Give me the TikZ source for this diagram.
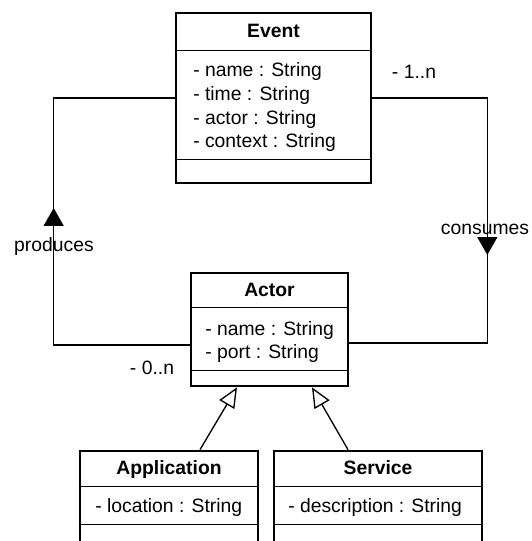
\documentclass[tikz,border=0pt]{standalone}
\usepackage{fontspec}
\setmainfont{Liberation Sans}
\usetikzlibrary{arrows.meta,calc,decorations.markings}

\tikzset{
    classbox/.style={draw, line width=2pt, inner sep=0pt},
    divider/.style={line width=1pt},
    assoc/.style={line width=1pt},
    classtitle/.style={font=\fontsize{14.5}{17}\selectfont\bfseries, inner sep=0pt,
        text height=10.5pt, text depth=0pt},
    attr/.style={font=\fontsize{14.5}{17}\selectfont, anchor=west, inner sep=0pt},
    rolelabel/.style={font=\fontsize{14.5}{17}\selectfont, inner sep=0pt},
    general/.style={line width=1pt, -{Triangle[open, length=15pt, width=13pt, line width=1pt]}},
    midarrow/.style={postaction={decorate}, decoration={markings,
        mark=at position #1 with {\arrow{Triangle[length=13.5pt, width=15pt]}}}}
}

\begin{document}
\begin{tikzpicture}[x=0.75pt, y=-0.75pt]
        \useasboundingbox (0,0) rectangle (531,541);
        \clip (0,0) rectangle (531,541);

        % Event
        \node[classbox, minimum width=146.25pt, minimum height=127.5pt] (event) at (273.5,98) {};
        \node[classtitle] (eventtitle) at ($(event.north)+(0,19)$) {Event};
        \draw[divider] ($(event.north west)+(0,39)$) -- ($(event.north east)+(0,39)$);
        \draw[divider] ($(event.north west)+(0,148)$) -- ($(event.north east)+(0,148)$);
        \foreach \a[count=\i] in {name, time, actor, context} {
            \node[attr] (eventattr\i) at (193, 48.4+23.6*\i) {- \a\ : String};
        }

        % Actor
        \node[classbox, minimum width=117.75pt, minimum height=84.75pt] (actor) at (269.5,329.5) {};
        \node[classtitle] (actortitle) at ($(actor.north)+(0,17.5)$) {Actor};
        \draw[divider] ($(actor.north west)+(0,36)$) -- ($(actor.north east)+(0,36)$);
        \draw[divider] ($(actor.north west)+(0,99)$) -- ($(actor.north east)+(0,99)$);
        \foreach \a[count=\i] in {name, port} {
            \node[attr] (actorattr\i) at (205, 306.5+23.5*\i) {- \a\ : String};
        }

        % Application and Service
        \node[classbox, minimum width=133.5pt, minimum height=72pt] (app) at (169,499) {};
        \node[classbox, minimum width=156pt, minimum height=72pt] (service) at (378,499) {};
        \foreach \c/\t in {app/Application, service/Service} {
            \node[classtitle] (\c title) at ($(\c.north)+(0,17.5)$) {\t};
            \draw[divider] ($(\c.north west)+(0,36.5)$) -- ($(\c.north east)+(0,36.5)$);
            \draw[divider] ($(\c.north west)+(0,74.5)$) -- ($(\c.north east)+(0,74.5)$);
        }
        \node[attr] (appattr) at (95,507) {- location : String};
        \node[attr] (serviceattr) at (288,507) {- description : String};

        % associations
        \draw[assoc, midarrow=204.75pt] ($(actor.west)+(0,15.5)$) -- ++(-136,0) |- (event.west);
        \draw[assoc, midarrow=204pt] (event.east) -- ++(115,0) |- ($(actor.east)+(0,13.5)$);
        \node[rolelabel] (produces) at (54,247) {produces};
        \node[rolelabel] (consumes) at (485,229) {consumes};
        \node[rolelabel] (eventmult) at (414,72) {- 1..n};
        \node[rolelabel] (actormult) at (152,368) {- 0..n};

        % generalizations
        \draw[general] ($(app.north)+(31,0)$) -- ($(actor.south)+(-32.5,0)$);
        \draw[general] ($(service.north)+(-30,0)$) -- ($(actor.south)+(42.5,0)$);
    \end{tikzpicture}
\end{document}
